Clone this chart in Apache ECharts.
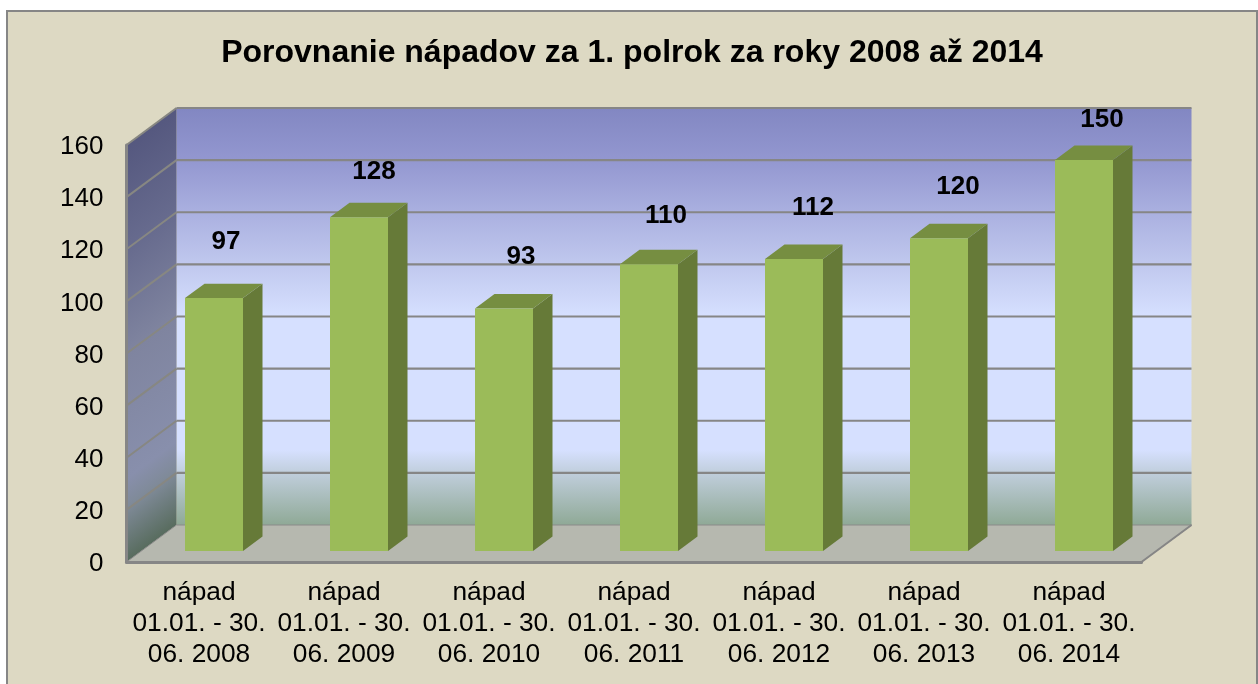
<!DOCTYPE html>
<html>
<head>
<meta charset="utf-8">
<title>Porovnanie nápadov</title>
<style>
  html, body { margin: 0; padding: 0; background: #fff; }
  #chart { width: 1258px; height: 684px; }
</style>
</head>
<body>
<div id="chart"></div>
<script src="https://cdn.jsdelivr.net/npm/echarts@6/dist/echarts.min.js"></script>
<script>
const years = ['2008', '2009', '2010', '2011', '2012', '2013', '2014'];
const values = [97, 128, 93, 110, 112, 120, 150];
const ticks = [0, 20, 40, 60, 80, 100, 120, 140, 160];
// hand placed labels in the original, so each has its own nudge
const labelShiftX = [12, 15, 17, 17, 19, 19, 18];
const labelLift = [56, 45, 52, 48, 51, 51, 40];

const categories = years.map(y => 'nápad\n01.01. - 30.\n06. ' + y);

const FONT = '"Liberation Sans", Arial, sans-serif';
const DX = 50, DY = -37; // depth of the fake 3D box

function renderWalls(params, api) {
  const cs = params.coordSys;
  const x0 = cs.x, x1 = cs.x + cs.width;
  const yTop = cs.y, yBot = cs.y + cs.height;
  // side wall shading runs along the skew, so the gradient is perpendicular to it
  const len2 = DX * DX + DY * DY;
  const k = cs.height * DX / len2;
  const children = [
    { type: 'polygon', shape: { points: [[x0 + DX, yTop + DY], [x1 + DX, yTop + DY], [x1 + DX, yBot + DY], [x0 + DX, yBot + DY]] },
      style: { fill: { type: 'linear', x: 0, y: 0, x2: 0, y2: 1, colorStops: [
        { offset: 0, color: '#8287C2' }, { offset: 0.125, color: '#9397D0' }, { offset: 0.25, color: '#AAB0E0' },
        { offset: 0.375, color: '#C0C8EE' }, { offset: 0.5, color: '#D6E0FF' },
        { offset: 0.82, color: '#D6E0FF' }, { offset: 0.875, color: '#C0CEDC' }, { offset: 1, color: '#8FA996' }] } } },
    { type: 'polygon', shape: { points: [[x0, yTop], [x0 + DX, yTop + DY], [x0 + DX, yBot + DY], [x0, yBot]] },
      style: { fill: { type: 'linear', global: true, x: x0, y: yTop, x2: x0 - DY * k, y2: yTop + DX * k, colorStops: [
        { offset: 0, color: '#55587F' }, { offset: 0.25, color: '#676B8E' }, { offset: 0.5, color: '#7F849F' },
        { offset: 0.8, color: '#888FAC' }, { offset: 0.87, color: '#7F8A98' }, { offset: 1, color: '#586C5E' }] } } },
    { type: 'polygon', shape: { points: [[x0, yBot], [x0 + DX, yBot + DY], [x1 + DX, yBot + DY], [x1, yBot]] },
      style: { fill: '#B6B8AF', stroke: '#8A8A8A', lineWidth: 1 } }
  ];
  ticks.forEach(t => {
    const y = api.coord([0, t])[1];
    if (t > 0) {
      children.push({ type: 'line', shape: { x1: x0 + DX, y1: y + DY, x2: x1 + DX, y2: y + DY },
        style: { stroke: '#868686', lineWidth: 2.2 } });
      children.push({ type: 'line', shape: { x1: x0, y1: y, x2: x0 + DX, y2: y + DY },
        style: { stroke: '#878782', lineWidth: 2 } });
    }
  });
  // right edge of the floor
  children.push({ type: 'line', shape: { x1: x1, y1: yBot, x2: x1 + DX, y2: yBot + DY },
    style: { stroke: '#868686', lineWidth: 2 } });
  return { type: 'group', children };
}

function renderBar(params, api) {
  const i = api.value(0);
  const v = api.value(1);
  const band = api.size([1, 0])[0];
  const w = band * 0.4;
  const near = 0.3, far = 0.39; // bar starts 30% into the box, takes ~40% of its depth
  const base = api.coord([i, 0]);
  const top = api.coord([i, v]);
  const left = base[0] - w / 2 + DX * near;
  const right = left + w;
  const yb = base[1] + DY * near;
  const yt = top[1] + DY * near;
  const sx = DX * far, sy = DY * far;
  return {
    type: 'group',
    children: [
      { type: 'polygon', shape: { points: [[right, yb], [right + sx, yb + sy], [right + sx, yt + sy], [right, yt]] },
        style: { fill: '#667A38' } },
      { type: 'polygon', shape: { points: [[left, yt], [left + sx, yt + sy], [right + sx, yt + sy], [right, yt]] },
        style: { fill: '#768E41' } },
      { type: 'rect', shape: { x: left, y: yt, width: w, height: yb - yt },
        style: { fill: '#9BBB59' } },
      { type: 'text', z2: 10, style: {
        text: String(v),
        x: left + w / 2 + labelShiftX[params.dataIndex],
        y: yt - labelLift[params.dataIndex],
        align: 'center', verticalAlign: 'middle',
        font: 'bold 26px ' + FONT, fill: '#000' } }
    ]
  };
}

const chart = echarts.init(document.getElementById('chart'));
chart.setOption({
  animation: false,
  backgroundColor: '#fff',
  graphic: [{
    type: 'rect', z: -10, silent: true,
    shape: { x: 7, y: 11, width: 1250, height: 690 },
    style: { fill: '#DDD9C3', stroke: '#868686', lineWidth: 2 }
  }],
  title: {
    text: 'Porovnanie nápadov za 1. polrok za roky 2008 až 2014',
    left: 627, top: 32, textAlign: 'center',
    textStyle: { fontFamily: FONT, fontWeight: 'bold', fontSize: 32, color: '#000' }
  },
  grid: { left: 126.5, top: 145, width: 1015, height: 417 },
  xAxis: {
    type: 'category', data: categories, z: 5,
    axisLine: { show: true, lineStyle: { color: '#868686', width: 3 } },
    axisTick: { show: false },
    axisLabel: { interval: 0, margin: 15, fontFamily: FONT, fontSize: 26.3, lineHeight: 31, color: '#000' }
  },
  yAxis: {
    type: 'value', min: 0, max: 160, interval: 20, z: 5,
    axisLine: { show: true, lineStyle: { color: '#868686', width: 3 } },
    axisTick: { show: false },
    splitLine: { show: false },
    axisLabel: { margin: 23, verticalAlign: 'top', padding: [-11, 0, 0, 0], fontFamily: FONT, fontSize: 26, color: '#000' }
  },
  series: [
    { type: 'custom', z: 1, silent: true, renderItem: renderWalls, data: [[0, 0]], clip: false },
    { type: 'custom', z: 2, renderItem: renderBar, encode: { x: 0, y: 1 }, clip: false,
      data: values.map((v, i) => [i, v]) }
  ]
});
</script>
</body>
</html>
